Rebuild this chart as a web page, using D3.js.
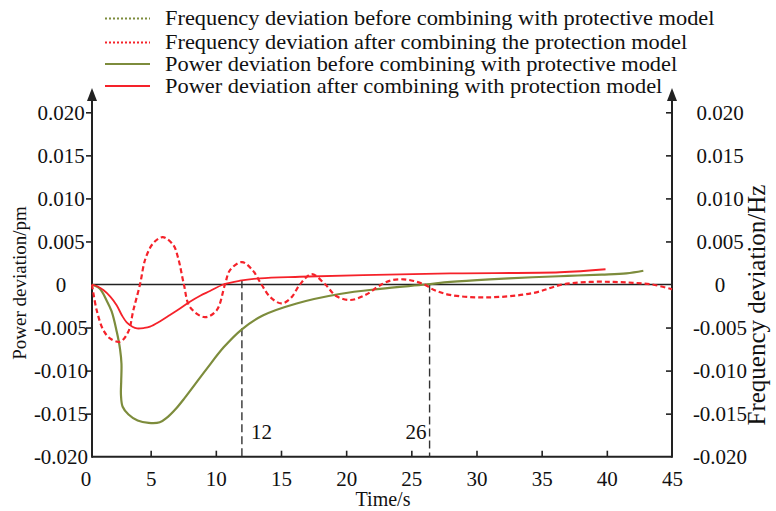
<!DOCTYPE html>
<html>
<head>
<meta charset="utf-8">
<script src="https://cdn.jsdelivr.net/npm/d3@7"></script>
<style>
  html, body { margin: 0; padding: 0; background: #fff; }
  svg { display: block; }
</style>
</head>
<body>
<div id="chart"></div>
<script>
// ---- data ----
const seriesNames = [
  'Frequency deviation before combining with protective model',
  'Frequency deviation after combining the protection model',
  'Power deviation before combining with protective model',
  'Power deviation after combining with protection model'
];

// red dashed: frequency deviation after (Hz, right axis)
const freqAfterT = [0.5, 0.86, 1.37, 1.88, 2.65, 3.28, 3.67, 4.18, 4.6, 5.2, 5.92, 6.73, 7.12, 7.55, 8.01, 9.16, 10.06, 10.7, 11.1, 12.0, 12.8, 13.5, 14.2, 15.05, 15.8, 16.45, 17.35, 18.4, 19.2, 20.3, 21.5, 22.7, 23.5, 24.4, 25.2, 26.0, 26.7, 27.95, 30.8, 34.3, 36.6, 38.7, 40.5, 42.0, 43.5, 45.0];
const freqAfterV = [0, -0.0030, -0.0053, -0.00626, -0.00665, -0.0055, -0.0030, 0, 0.0030, 0.0048, 0.0055, 0.0046, 0.0030, 0, -0.0026, -0.0038, -0.0030, 0, 0.0017, 0.0026, 0.0017, 0, -0.0015, -0.0022, -0.0015, 0, 0.0012, 0, -0.0013, -0.0018, -0.0012, 0, 0.0005, 0.0006, 0.0004, 0, -0.0006, -0.0012, -0.0015, -0.0010, 0, 0.0003, 0.0003, 0.0002, 0, -0.00056];

// red solid: power deviation after (pm, left axis)
const powerAfterT = [0.5, 0.9, 1.37, 1.9, 2.39, 2.8, 3.16, 3.6, 3.95, 4.5, 4.95, 5.7, 6.48, 7.25, 8.01, 8.8, 9.55, 10.57, 11.85, 13.4, 16.45, 21.3, 28.0, 36.4, 39.9];
const powerAfterV = [0, -0.0002, -0.00064, -0.0014, -0.0024, -0.0036, -0.0044, -0.0049, -0.0051, -0.00505, -0.0049, -0.0043, -0.00355, -0.0028, -0.0020, -0.0013, -0.00076, 0, 0.00044, 0.00072, 0.0009, 0.0011, 0.0013, 0.00142, 0.00177];

// olive solid: power deviation before (pm, left axis)
const powerBeforeT = [0.5, 1.1, 1.6, 2.0, 2.4, 2.65, 2.76, 2.74, 2.72, 2.85, 3.3, 4.0, 4.85, 5.7, 6.3, 6.9, 7.6, 8.4, 9.3, 10.6, 12.0, 13.6, 16.2, 19.5, 22.6, 26.1, 28.0, 31.0, 34.3, 37.0, 39.6, 41.5, 42.8];
const powerBeforeV = [0, -0.0005, -0.0018, -0.0031, -0.0055, -0.0075, -0.0092, -0.0112, -0.0128, -0.0142, -0.0151, -0.0158, -0.01607, -0.0160, -0.0154, -0.0145, -0.0132, -0.0116, -0.0098, -0.0073, -0.0052, -0.0036, -0.0022, -0.0011, -0.0005, 0, 0.0003, 0.0006, 0.00084, 0.0010, 0.00115, 0.0013, 0.0016];

// marked instants
const markT = [12.0, 26.4];
const markLabels = ['12', '26'];
const markTop = [0.0005, 0];

const xTicks = [0, 5, 10, 15, 20, 25, 30, 35, 40, 45];
const yTicks = [-0.020, -0.015, -0.010, -0.005, 0, 0.005, 0.010, 0.015, 0.020];

// ---- layout ----
const W = 776, H = 511;
const RED = '#f5222a', OLIVE = '#7d8c3c', AXIS = '#222';
const SERIF = "'Liberation Serif', 'Times New Roman', serif";
const frameL = 92;                      // left axis line sits a little right of t=0
const x = d3.scaleLinear().domain([0, 45]).range([85.5, 672]);
const y = d3.scaleLinear().domain([-0.02, 0.02]).range([456.7, 112.3]);
const frameR = x(45), frameB = y(-0.02), arrowTip = 88;

const svg = d3.select('#chart').append('svg').attr('width', W).attr('height', H)
  .style('font-family', SERIF);
svg.append('rect').attr('width', W).attr('height', H).attr('fill', '#fff');

const fmt = v => v === 0 ? '0' : v.toFixed(3);

// left axis
const gl = svg.append('g').attr('transform', `translate(${frameL},0)`)
  .call(d3.axisLeft(y).tickValues(yTicks.filter(v => v !== 0 && v !== -0.02)).tickSize(6).tickFormat(fmt));
gl.select('.domain').remove();
gl.selectAll('line').attr('stroke', AXIS).attr('stroke-width', 1.6);
gl.selectAll('.tick text').remove();
svg.append('g').selectAll('text').data(yTicks).join('text')
  .attr('x', 61).attr('y', d => y(d)).attr('dy', '0.35em')
  .attr('text-anchor', 'middle').style('font-family', SERIF).style('font-size', '21px')
  .attr('fill', '#111').text(fmt);

// right axis (ticks point inward)
const gr = svg.append('g').attr('transform', `translate(${frameR},0)`)
  .call(d3.axisRight(y).tickValues(yTicks.filter(v => v !== 0 && v !== -0.02)).tickSize(-6).tickFormat(fmt));
gr.select('.domain').remove();
gr.selectAll('line').attr('stroke', AXIS).attr('stroke-width', 1.6);
gr.selectAll('.tick text').remove();
svg.append('g').selectAll('text').data(yTicks).join('text')
  .attr('x', 720).attr('y', d => y(d)).attr('dy', '0.35em')
  .attr('text-anchor', 'middle').style('font-family', SERIF).style('font-size', '21px')
  .attr('fill', '#111').text(fmt);

// bottom axis
const gb = svg.append('g').attr('transform', `translate(0,${frameB})`)
  .call(d3.axisBottom(x).tickValues(xTicks).tickSize(-6).tickFormat(d3.format('d')));
gb.select('.domain').remove();
gb.selectAll('.tick line').attr('stroke', AXIS).attr('stroke-width', 1.6)
  .filter(d => d === 0 || d === 45).remove();
gb.selectAll('.tick text').attr('y', 14).attr('dy', '0.71em')
  .style('font-family', SERIF).style('font-size', '21px').attr('fill', '#111');

// frame lines + arrows
svg.append('line').attr('x1', frameL).attr('x2', frameR).attr('y1', frameB).attr('y2', frameB)
  .attr('stroke', AXIS).attr('stroke-width', 2);
[frameL, frameR].forEach(ax => {
  svg.append('line').attr('x1', ax).attr('x2', ax).attr('y1', frameB + 1).attr('y2', arrowTip + 8)
    .attr('stroke', AXIS).attr('stroke-width', 2);
  svg.append('path').attr('d', `M${ax},${arrowTip} L${ax - 5},${arrowTip + 13} L${ax + 5},${arrowTip + 13} Z`)
    .attr('fill', AXIS);
});

// zero line
svg.append('line').attr('x1', frameL).attr('x2', frameR).attr('y1', y(0)).attr('y2', y(0))
  .attr('stroke', AXIS).attr('stroke-width', 1.6);

// marker lines
markT.forEach((t, i) => {
  svg.append('line').attr('x1', x(t)).attr('x2', x(t)).attr('y1', y(markTop[i])).attr('y2', frameB)
    .attr('stroke', '#333').attr('stroke-width', 1.4).attr('stroke-dasharray', '8 4');
});
svg.append('text').attr('x', x(markT[0]) + 9).attr('y', 439).style('font-size', '21px').attr('fill', '#111').text(markLabels[0]);
svg.append('text').attr('x', x(markT[1]) - 3).attr('y', 439).attr('text-anchor', 'end').style('font-size', '21px').attr('fill', '#111').text(markLabels[1]);

// curves
const line = d3.line().x(d => x(d[0])).y(d => y(d[1])).curve(d3.curveCatmullRom.alpha(0.5));
const zip = (ts, vs) => ts.map((t, i) => [t, vs[i]]);

svg.append('path').datum(zip(powerBeforeT, powerBeforeV)).attr('d', line)
  .attr('fill', 'none').attr('stroke', OLIVE).attr('stroke-width', 2.2);
svg.append('path').datum(zip(powerAfterT, powerAfterV)).attr('d', line)
  .attr('fill', 'none').attr('stroke', RED).attr('stroke-width', 1.8);
svg.append('path').datum(zip(freqAfterT, freqAfterV)).attr('d', line)
  .attr('fill', 'none').attr('stroke', RED).attr('stroke-width', 2.2).attr('stroke-dasharray', '5 3');

// axis titles
svg.append('text').attr('x', 383).attr('y', 506).attr('text-anchor', 'middle')
  .style('font-size', '20px').attr('fill', '#111').text('Time/s');
svg.append('text').attr('transform', 'translate(19,283) rotate(-90)').attr('dy', '0.35em')
  .attr('text-anchor', 'middle').style('font-size', '19px').attr('fill', '#111').text('Power deviation/pm');
svg.append('text').attr('transform', 'translate(765,305) rotate(-90)')
  .attr('text-anchor', 'middle').style('font-size', '25px').attr('fill', '#111').text('Frequency deviation/Hz');

// legend
const legColors = [OLIVE, RED, OLIVE, RED];
const legDash = ['2 2', '2 2', null, null];
const legY = [18.5, 42.5, 64, 86];
const lg = svg.append('g');
seriesNames.forEach((name, i) => {
  lg.append('line').attr('x1', 105).attr('x2', 150).attr('y1', legY[i]).attr('y2', legY[i])
    .attr('stroke', legColors[i]).attr('stroke-width', 2).attr('stroke-dasharray', legDash[i]);
  lg.append('text').attr('transform', `translate(165,${legY[i] + 6.5}) scale(1.12,1)`)
    .style('font-size', '20px').attr('fill', '#111').text(name);
});
</script>
</body>
</html>
